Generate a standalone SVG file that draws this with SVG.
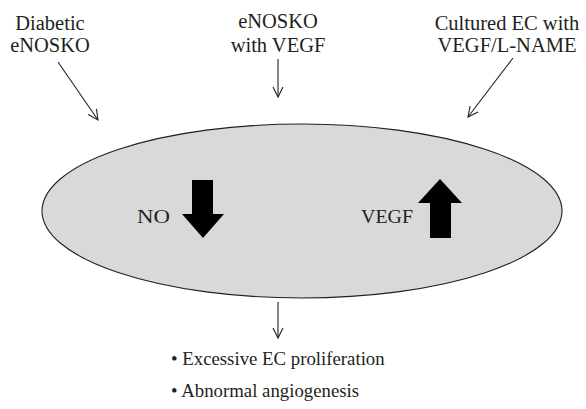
<svg xmlns="http://www.w3.org/2000/svg" width="586" height="409" viewBox="0 0 586 409">
<style>
text{font-family:"Liberation Serif","DejaVu Serif",serif;font-size:20.5px;fill:#231f20}
.c{text-anchor:middle}
.b{font-size:18.8px}
.ln{stroke:#231f20;stroke-width:1.1;fill:none}
</style>
<defs>
<marker id="ah" viewBox="0 0 12 12" refX="11" refY="6" markerWidth="12" markerHeight="12" markerUnits="userSpaceOnUse" orient="auto">
<path d="M1,1 L11,6 L1,11" fill="none" stroke="#231f20" stroke-width="1.1"/>
</marker>
</defs>
<rect width="586" height="409" fill="#fff"/>
<g id="main">
<ellipse cx="302" cy="211" rx="260" ry="87" fill="#d9d9d9" stroke="#231f20" stroke-width="1.1"/>
<text x="137" y="223" textLength="33" lengthAdjust="spacingAndGlyphs" style="font-size:19px">NO</text>
<polygon points="192,180 213,180 213,214 224,214 203,238 182,214 192,214" fill="#000"/>
<text x="361" y="223" textLength="52" lengthAdjust="spacingAndGlyphs" style="font-size:19px">VEGF</text>
<polygon points="430,238 451,238 451,203 462,203 440,179 418,203 430,203" fill="#000"/>
</g>
<g id="diabetic">
<text class="c" x="50" y="30">Diabetic</text>
<text class="c" x="50" y="52">eNOSKO</text>
</g>
<g id="enosko-vegf">
<text class="c" x="278" y="28">eNOSKO</text>
<text class="c" x="278" y="52">with VEGF</text>
</g>
<g id="cultured">
<text class="c" x="507" y="30">Cultured EC with</text>
<text class="c" x="507" y="52">VEGF/L-NAME</text>
</g>
<g id="outcomes">
<text class="b" x="171" y="365">• Excessive EC proliferation</text>
<text class="b" x="171" y="397">• Abnormal angiogenesis</text>
</g>
<g id="connectors">
<line class="ln" x1="58" y1="62" x2="98" y2="120" marker-end="url(#ah)"/>
<line class="ln" x1="278" y1="59" x2="278" y2="97" marker-end="url(#ah)"/>
<line class="ln" x1="513" y1="58" x2="468" y2="117" marker-end="url(#ah)"/>
<line class="ln" x1="278" y1="302" x2="278" y2="338" marker-end="url(#ah)"/>
</g>
</svg>
